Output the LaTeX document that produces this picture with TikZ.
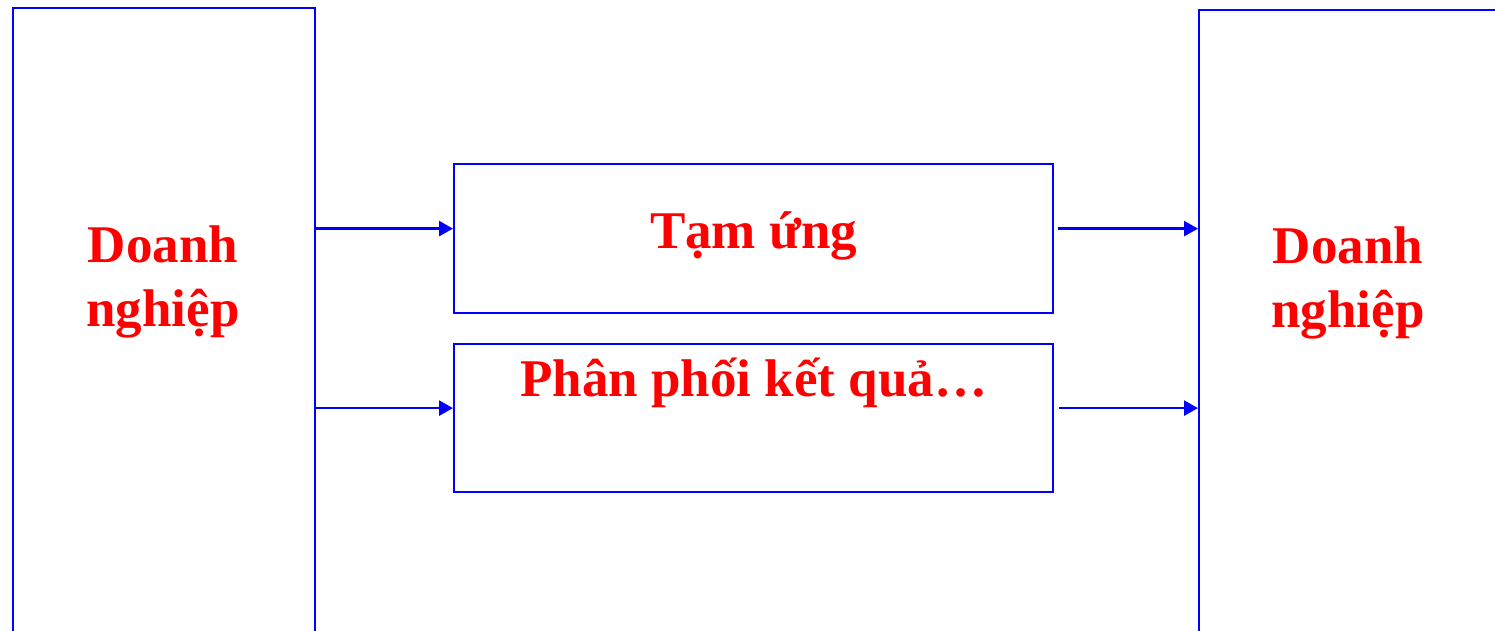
\documentclass[tikz,border=0pt]{standalone}
\usepackage{fontspec}
\setmainfont{Liberation Serif}
\usetikzlibrary{arrows.meta}

\begin{document}
\begin{tikzpicture}[
x=1pt, y=-1pt,
box/.style={rectangle, draw=blue, line width=2.2pt, anchor=north west, inner sep=0pt},
bigtext/.style={text=red, font=\bfseries\fontsize{53}{64}\selectfont, align=center, anchor=base, inner sep=0pt},
flow/.style={draw=blue, line width=2.6pt, -{Triangle[length=14pt,width=15pt]}},
]
\useasboundingbox (0,0) rectangle (1495,630);
\clip (0,0) rectangle (1495,630);
% the two firms
\node[box, minimum width=302pt, minimum height=680pt] (dn1) at (12,7) {};
\node[box, minimum width=302pt, minimum height=680pt] (dn2) at (1198,9) {};
\node[bigtext] (dn1text) at (163,326) {Doanh\\nghiệp};
\node[bigtext] (dn2text) at (1348,327) {Doanh\\nghiệp};
% the two flows in between
\node[box, minimum width=599pt, minimum height=149pt] (tamung) at (453,163) {};
\node[box, minimum width=599pt, minimum height=148pt] (phanphoi) at (453,343) {};
\node[bigtext] (tamungtext) at ([yshift=-9.5pt]tamung.center) {Tạm ứng};
\node[bigtext] (phanphoitext) at ([yshift=22pt]phanphoi.center) {Phân phối kết quả…};
% arrows
\draw[flow] ([yshift=10pt]tamung.west -| dn1.east) -- ([yshift=10pt]tamung.west);
\draw[flow] ([yshift=10pt]phanphoi.west -| dn1.east) -- ([yshift=10pt]phanphoi.west);
\draw[flow] ([xshift=4pt,yshift=10pt]tamung.east) -- ([yshift=10pt]tamung.east -| dn2.west);
\draw[flow] ([xshift=5pt,yshift=10pt]phanphoi.east) -- ([yshift=10pt]phanphoi.east -| dn2.west);
\end{tikzpicture}
\end{document}
